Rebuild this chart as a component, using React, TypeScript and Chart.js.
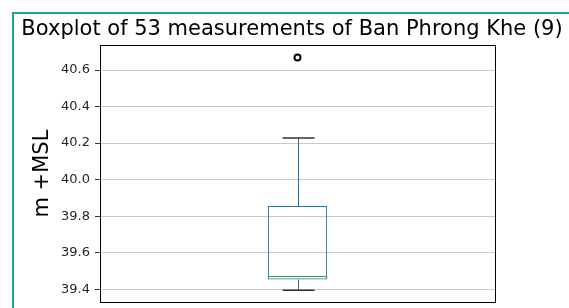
import React, { useEffect, useRef } from "react";
import { Chart, registerables } from "chart.js";

Chart.register(...registerables);

const categories = ["Ban Phrong Khe (9)"];
const whiskerLow = [39.395];
const q1 = [39.453];
const median = [39.47];
const q3 = [39.855];
const whiskerHigh = [40.228];
const outliers = [40.668];
const yTicks = [39.4, 39.6, 39.8, 40.0, 40.2, 40.4, 40.6];
const yMin = 39.329;
const yMax = 40.737;
const titleText = "Boxplot of 53 measurements of Ban Phrong Khe (9)";
const yTitle = "m +MSL";

const boxExtras = {
  id: "boxExtras",
  afterDatasetsDraw(chart: any) {
    const { ctx, scales } = chart;
    const y = scales.y;
    const meta = chart.getDatasetMeta(0);
    meta.data.forEach((bar: any, i: number) => {
      const cx = Math.round(bar.x) + 0.5;
      const w = bar.width;
      ctx.save();
      ctx.strokeStyle = "#1f77b4";
      ctx.lineWidth = 1;
      ctx.beginPath();
      ctx.moveTo(cx, y.getPixelForValue(q3[i]));
      ctx.lineTo(cx, y.getPixelForValue(whiskerHigh[i]));
      ctx.moveTo(cx, y.getPixelForValue(q1[i]));
      ctx.lineTo(cx, y.getPixelForValue(whiskerLow[i]));
      ctx.stroke();
      ctx.strokeStyle = "#333333";
      ctx.lineWidth = 1.5;
      const cw = w * 0.27;
      ctx.beginPath();
      [whiskerHigh[i], whiskerLow[i]].forEach((v) => {
        const py = y.getPixelForValue(v);
        ctx.moveTo(cx - cw, py);
        ctx.lineTo(cx + cw, py);
      });
      ctx.stroke();
      ctx.strokeStyle = "#2ca02c";
      ctx.lineWidth = 1;
      ctx.beginPath();
      const my = y.getPixelForValue(median[i]);
      ctx.moveTo(bar.x - w / 2, my);
      ctx.lineTo(bar.x + w / 2, my);
      ctx.stroke();
      ctx.restore();
    });
  },
  afterDraw(chart: any) {
    const { ctx, chartArea } = chart;
    ctx.save();
    ctx.strokeStyle = "#000000";
    ctx.lineWidth = 1;
    ctx.strokeRect(
      Math.round(chartArea.left) + 0.5,
      Math.round(chartArea.top) + 0.5,
      Math.round(chartArea.right - chartArea.left),
      Math.round(chartArea.bottom - chartArea.top)
    );
    ctx.restore();
  },
};

export default function App() {
  const ref = useRef<HTMLCanvasElement | null>(null);
  useEffect(() => {
    if (!ref.current) return;
    const chart = new Chart(ref.current, {
      data: {
        labels: categories,
        datasets: [
          {
            type: "bar",
            data: categories.map((_, i) => [q1[i], q3[i]]),
            backgroundColor: "rgba(0,0,0,0)",
            borderColor: "#1f77b4",
            borderWidth: 1,
            borderSkipped: false,
            categoryPercentage: 1,
            barPercentage: 0.15,
            yAxisID: "y",
          } as any,
          {
            type: "line",
            data: outliers,
            showLine: false,
            pointRadius: 3,
            pointBorderWidth: 2,
            pointBorderColor: "#000000",
            pointBackgroundColor: "rgba(0,0,0,0)",
            borderColor: "#000000",
            yAxisID: "y",
          } as any,
        ],
      },
      options: {
        animation: false,
        responsive: false,
        layout: { padding: { left: 15, right: 0, top: 0, bottom: 0 } },
        plugins: {
          legend: { display: false },
          tooltip: { enabled: false },
          title: {
            display: true,
            text: titleText,
            color: "#000000",
            font: { family: "DejaVu Sans", size: 21, weight: "normal" },
            padding: { top: 17.4, bottom: 2.4 },
          },
        },
        scales: {
          x: { display: false },
          y: {
            min: yMin,
            max: yMax,
            afterFit(scale: any) {
              scale.width = 85;
            },
            afterBuildTicks(scale: any) {
              scale.ticks = yTicks.map((v) => ({ value: v }));
            },
            ticks: {
              color: "#262626",
              font: { family: "DejaVu Sans", size: 13 },
              padding: 5,
              callback: (v: any) => Number(v).toFixed(1),
            },
            grid: {
              color: "#c8c8c8",
              lineWidth: 1,
              tickColor: "#333333",
              tickLength: 5,
            },
            border: { display: false },
            title: {
              display: true,
              text: yTitle,
              color: "#000000",
              font: { family: "DejaVu Sans", size: 21 },
              padding: { top: 15.4, bottom: 0 },
            },
          },
          yRight: {
            type: "linear",
            position: "right",
            display: true,
            afterFit(scale: any) {
              scale.width = 74;
            },
            ticks: { display: false },
            grid: { display: false, drawTicks: false },
            border: { display: false },
          },
        },
      },
      plugins: [boxExtras],
    });
    return () => chart.destroy();
  }, []);
  return (
    <div
      style={{
        position: "fixed",
        left: 0,
        top: 0,
        width: 569,
        height: 308,
        overflow: "hidden",
        background: "#ffffff",
      }}
    >
      <div
        style={{
          position: "absolute",
          left: 12,
          top: 12,
          width: 700,
          height: 400,
          borderLeft: "2px solid #259c9c",
          borderTop: "2px solid #259c9c",
        }}
      />
      <canvas
        ref={ref}
        width={569}
        height={315}
        style={{ position: "absolute", left: 0, top: 0 }}
      />
    </div>
  );
}
